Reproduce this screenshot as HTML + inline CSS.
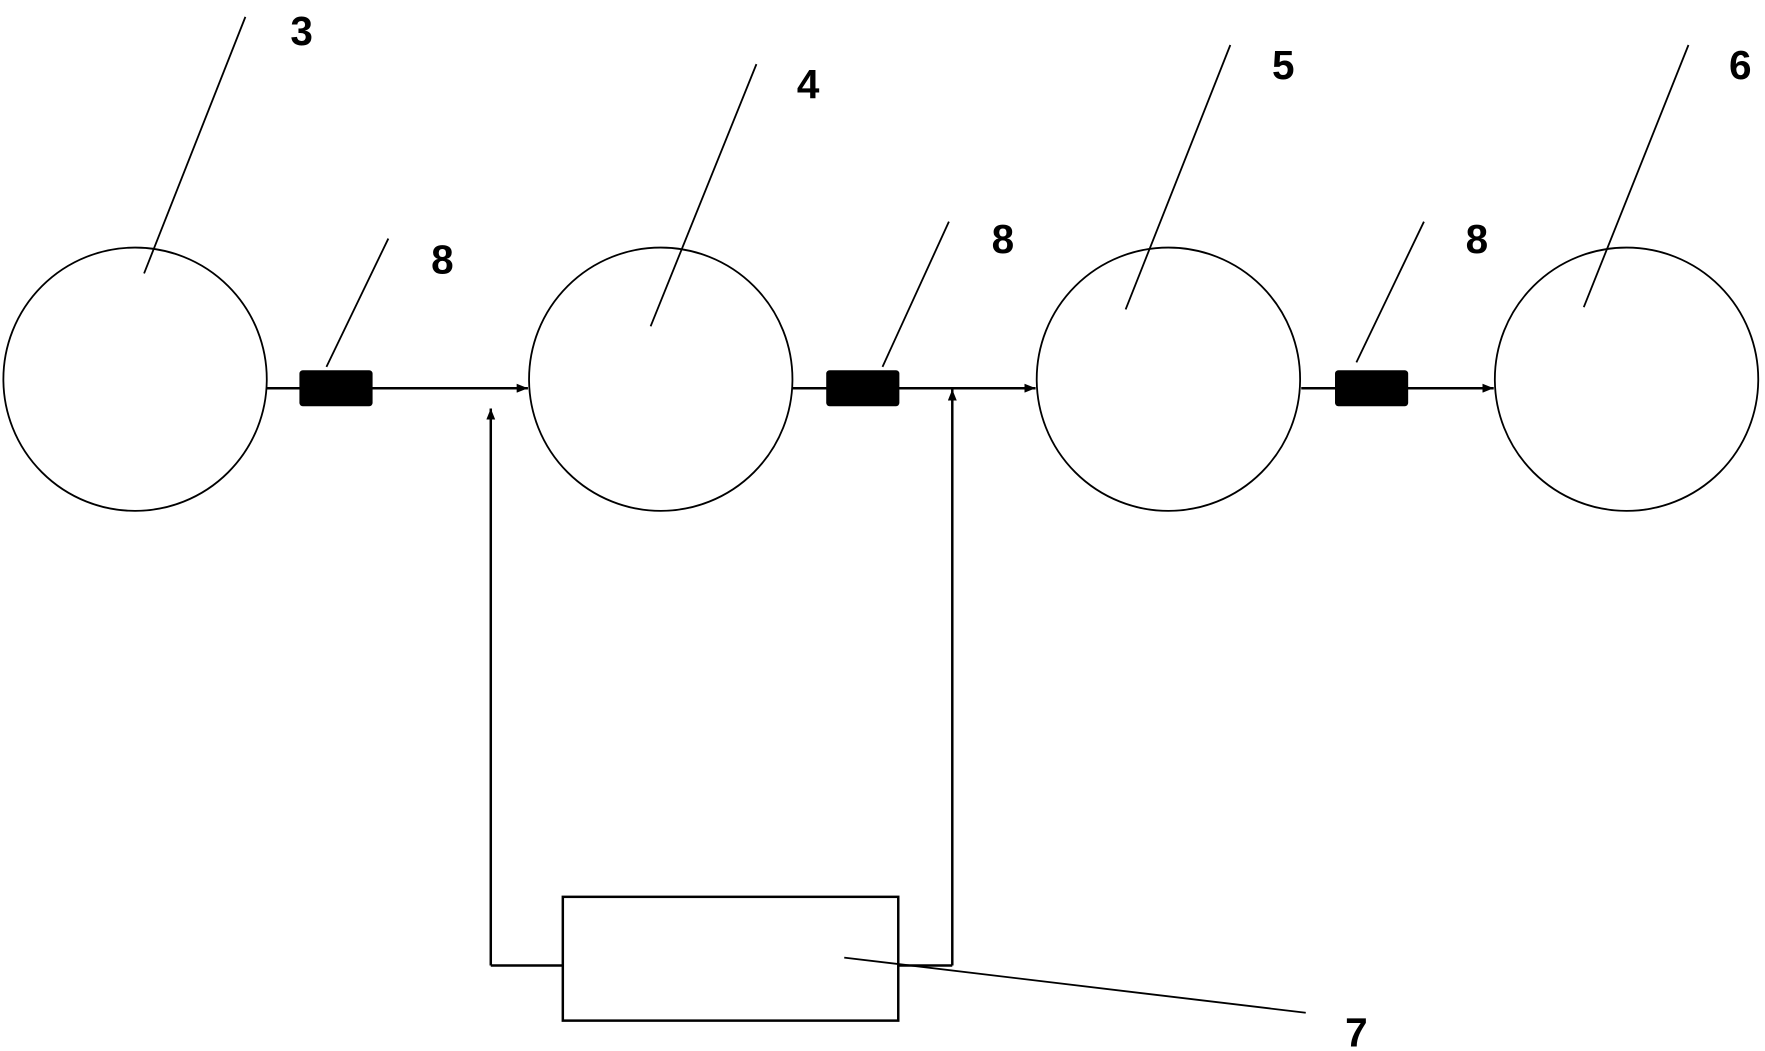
<!DOCTYPE html>
<html><head><style>html,body{margin:0;padding:0;background:#fff;}svg{display:block}</style></head>
<body>
<svg width="1765" height="1051" viewBox="0 0 1568 934" preserveAspectRatio="none" xmlns="http://www.w3.org/2000/svg">
<defs><marker id="a" markerWidth="10" markerHeight="8" refX="10" refY="4" orient="auto" markerUnits="userSpaceOnUse"><path d="M0,0 L10,4 L0,8 z" fill="#000"/></marker></defs>
<g fill="none" stroke="#000" stroke-width="1.6">
<ellipse cx="120" cy="337" rx="117" ry="117"/>
<ellipse cx="587" cy="337" rx="117" ry="117"/>
<ellipse cx="1038" cy="337" rx="117" ry="117"/>
<ellipse cx="1445" cy="337" rx="117" ry="117"/>
<line x1="237" y1="345" x2="469" y2="345" stroke-width="2.2" marker-end="url(#a)"/>
<line x1="704" y1="345" x2="920" y2="345" stroke-width="2.2" marker-end="url(#a)"/>
<line x1="1156" y1="345" x2="1327" y2="345" stroke-width="2.2" marker-end="url(#a)"/>
<line x1="436" y1="858" x2="436" y2="363" stroke-width="2.2" marker-end="url(#a)"/>
<line x1="846" y1="858" x2="846" y2="346" stroke-width="2.2" marker-end="url(#a)"/>
<polyline points="500,858 436,858" stroke-width="2.2"/>
<line x1="798" y1="858" x2="846" y2="858" stroke-width="2.2"/>
<rect x="500" y="797" width="298" height="110" stroke-width="2.2"/>
<line x1="750" y1="851" x2="1160" y2="900"/>
<line x1="218" y1="15" x2="128" y2="243"/>
<line x1="672" y1="57" x2="578" y2="290"/>
<line x1="1093" y1="40" x2="1000" y2="275"/>
<line x1="1500" y1="40" x2="1407" y2="273"/>
<line x1="345" y1="212" x2="290" y2="326"/>
<line x1="843" y1="197" x2="784" y2="326"/>
<line x1="1265" y1="197" x2="1205" y2="322"/>
</g>
<g fill="#000">
<rect x="266" y="329" width="65" height="32" rx="3"/>
<rect x="734" y="329" width="65" height="32" rx="3"/>
<rect x="1186" y="329" width="65" height="32" rx="3"/>
</g>
<g font-family="Liberation Sans, sans-serif" font-weight="bold" font-size="36" text-anchor="middle">
<text x="268" y="40">3</text>
<text x="718" y="87">4</text>
<text x="1140" y="70">5</text>
<text x="1546" y="70">6</text>
<text x="393" y="243">8</text>
<text x="891" y="225">8</text>
<text x="1312" y="225">8</text>
<text x="1205" y="930">7</text>
</g>
</svg>
</body></html>
